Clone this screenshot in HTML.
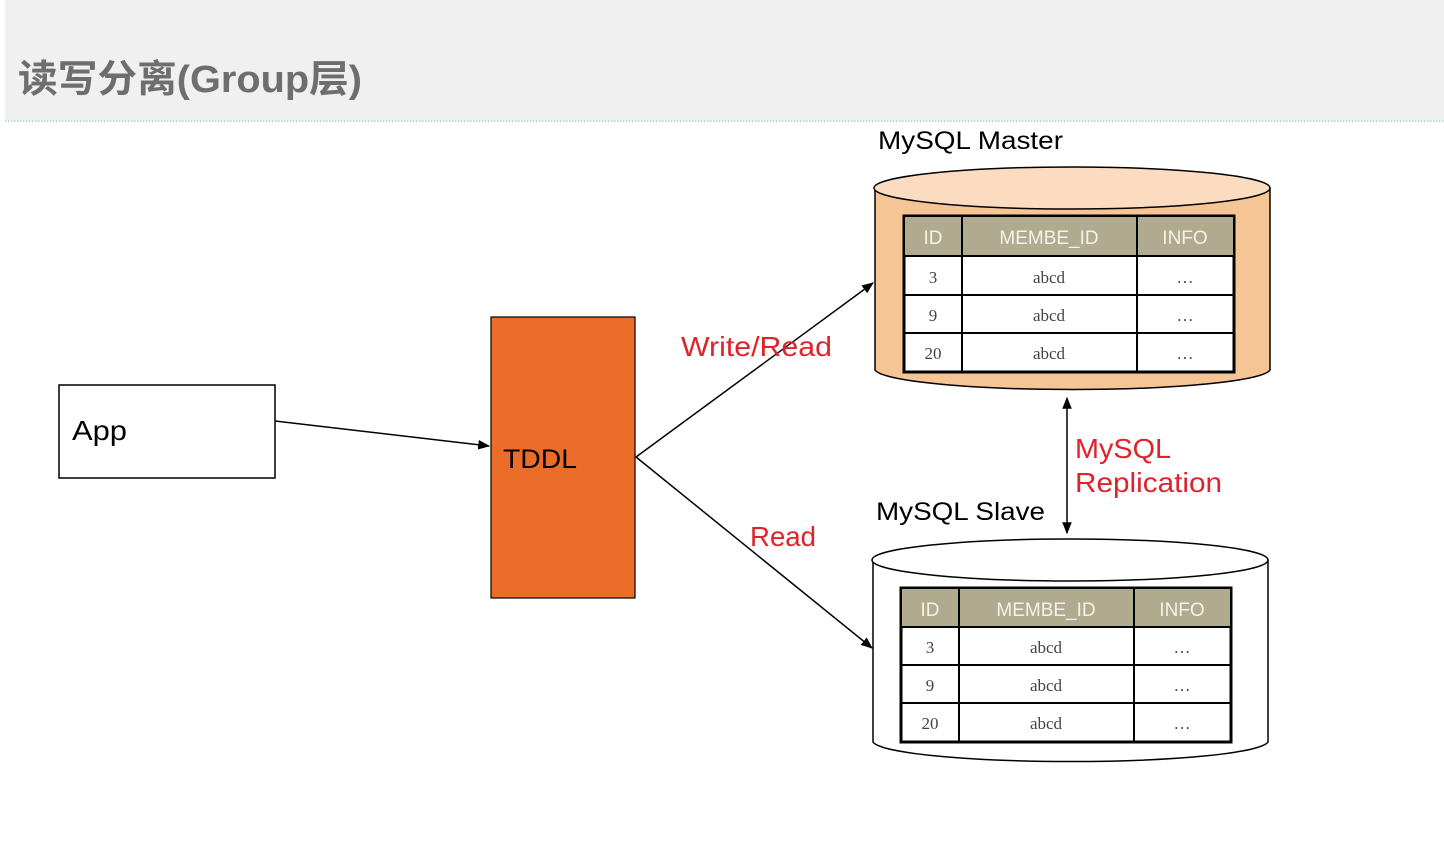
<!DOCTYPE html>
<html><head><meta charset="utf-8"><style>
body{margin:0;width:1444px;height:842px;background:#fff;overflow:hidden;font-family:"Liberation Sans","Noto Sans CJK SC",sans-serif}
</style></head><body>
<svg width="1444" height="842" xmlns="http://www.w3.org/2000/svg" style="position:absolute;left:0;top:0">
<defs><marker id="a" viewBox="0 0 10 10" refX="9" refY="5" markerWidth="8" markerHeight="8" orient="auto-start-reverse"><path d="M0,1 L10,5 L0,9 z" fill="#000"/></marker></defs>
<rect x="5" y="0" width="1439" height="120" fill="#f0f0f0"/>
<line x1="5" y1="121" x2="1444" y2="121" stroke="#7cc8c0" stroke-dasharray="1.5,1.5" stroke-width="1.2"/>
<text x="18" y="92" font-size="38" font-weight="bold" fill="#6e6e6e" textLength="344" lengthAdjust="spacingAndGlyphs" font-family="Liberation Sans,Noto Sans CJK SC,sans-serif">读写分离(Group层)</text>

<rect x="59" y="385" width="216" height="93" fill="#fff" stroke="#000" stroke-width="1.5"/>
<text x="72" y="440" font-size="28" textLength="55" lengthAdjust="spacingAndGlyphs">App</text>
<rect x="491" y="317" width="144" height="281" fill="#ec6d2a" stroke="#000" stroke-width="1.2"/>
<text x="503" y="468" font-size="27" textLength="74" lengthAdjust="spacingAndGlyphs">TDDL</text>

<line x1="275" y1="421" x2="489" y2="446" stroke="#000" stroke-width="1.5" marker-end="url(#a)"/>
<line x1="636" y1="457" x2="873" y2="283" stroke="#000" stroke-width="1.5" marker-end="url(#a)"/>
<line x1="636" y1="457" x2="872" y2="648" stroke="#000" stroke-width="1.5" marker-end="url(#a)"/>
<line x1="1067" y1="398" x2="1067" y2="533" stroke="#000" stroke-width="1.5" marker-end="url(#a)" marker-start="url(#a)"/>

<g fill="#e0232a" font-size="28">
<text x="681" y="356" textLength="151" lengthAdjust="spacingAndGlyphs">Write/Read</text>
<text x="750" y="546" textLength="66" lengthAdjust="spacingAndGlyphs">Read</text>
<text x="1075" y="458" textLength="96" lengthAdjust="spacingAndGlyphs">MySQL</text>
<text x="1075" y="492" textLength="147" lengthAdjust="spacingAndGlyphs">Replication</text>
</g>
<text x="878" y="149" font-size="25" textLength="185" lengthAdjust="spacingAndGlyphs">MySQL Master</text>
<text x="876" y="520" font-size="25" textLength="169" lengthAdjust="spacingAndGlyphs">MySQL Slave</text>

<path d="M875,188 L875,370 A198,21 0 0 0 1270,370 L1270,188" fill="#f6c596" stroke="#000" stroke-width="1.5"/>
<ellipse cx="1072" cy="188" rx="198" ry="21" fill="#fbdcc0" stroke="#000" stroke-width="1.5"/>
<path d="M873,560 L873,742 A198,21 0 0 0 1268,742 L1268,560" fill="#fff" stroke="#000" stroke-width="1.5"/>
<ellipse cx="1070" cy="560" rx="198" ry="21" fill="#fff" stroke="#000" stroke-width="1.5"/>

<g font-family="Liberation Serif,serif" font-size="17" fill="#444" text-anchor="middle">
<rect x="904" y="216" width="330" height="156" fill="#fff" stroke="#000" stroke-width="3"/>
<rect x="905" y="217" width="328" height="38" fill="#b0ab8e"/>
<line x1="905" y1="256" x2="1233" y2="256" stroke="#000" stroke-width="2"/>
<line x1="905" y1="295" x2="1233" y2="295" stroke="#000" stroke-width="2"/>
<line x1="905" y1="333" x2="1233" y2="333" stroke="#000" stroke-width="2"/>
<line x1="962" y1="217" x2="962" y2="371" stroke="#000" stroke-width="2"/>
<line x1="1137" y1="217" x2="1137" y2="371" stroke="#000" stroke-width="2"/>
<g font-family="Liberation Sans,sans-serif" font-size="19" fill="#f4f2ea"><text x="933" y="244">ID</text><text x="1049" y="244">MEMBE_ID</text><text x="1185" y="244">INFO</text></g>
<text x="933" y="283">3</text><text x="1049" y="283">abcd</text><text x="1185" y="283">…</text>
<text x="933" y="321">9</text><text x="1049" y="321">abcd</text><text x="1185" y="321">…</text>
<text x="933" y="359">20</text><text x="1049" y="359">abcd</text><text x="1185" y="359">…</text>
</g>
<g font-family="Liberation Serif,serif" font-size="17" fill="#444" text-anchor="middle">
<rect x="901" y="588" width="330" height="154" fill="#fff" stroke="#000" stroke-width="3"/>
<rect x="902" y="589" width="328" height="38" fill="#b0ab8e"/>
<line x1="902" y1="627" x2="1230" y2="627" stroke="#000" stroke-width="2"/>
<line x1="902" y1="665" x2="1230" y2="665" stroke="#000" stroke-width="2"/>
<line x1="902" y1="703" x2="1230" y2="703" stroke="#000" stroke-width="2"/>
<line x1="959" y1="589" x2="959" y2="741" stroke="#000" stroke-width="2"/>
<line x1="1134" y1="589" x2="1134" y2="741" stroke="#000" stroke-width="2"/>
<g font-family="Liberation Sans,sans-serif" font-size="19" fill="#f4f2ea"><text x="930" y="616">ID</text><text x="1046" y="616">MEMBE_ID</text><text x="1182" y="616">INFO</text></g>
<text x="930" y="653">3</text><text x="1046" y="653">abcd</text><text x="1182" y="653">…</text>
<text x="930" y="691">9</text><text x="1046" y="691">abcd</text><text x="1182" y="691">…</text>
<text x="930" y="729">20</text><text x="1046" y="729">abcd</text><text x="1182" y="729">…</text>
</g>
</svg>
</body></html>
